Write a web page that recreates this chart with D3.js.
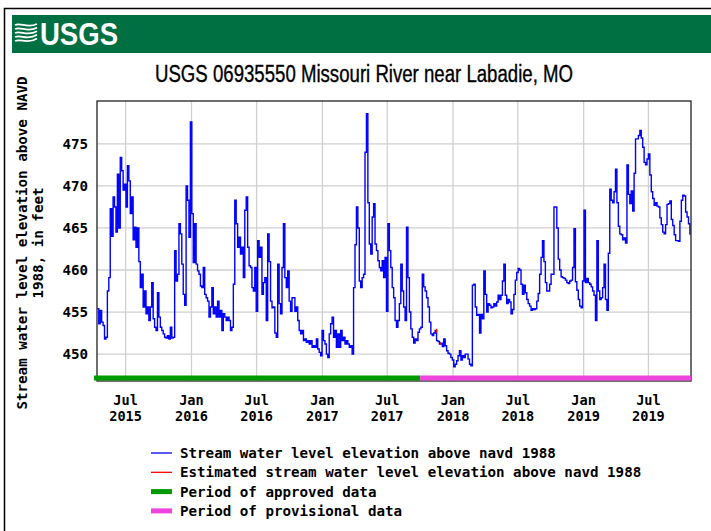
<!DOCTYPE html>
<html>
<head>
<meta charset="utf-8">
<script src="https://cdn.jsdelivr.net/npm/d3@7"></script>
<style>
    body { margin: 0; background: #fff; }
    #chart { width: 711px; height: 531px; }
    .mono { font-family: "DejaVu Sans Mono", "Liberation Mono", monospace; font-weight: bold; font-size: 14.2px; fill: #000; }
    .xlab { font-size: 13.6px; }
</style>
</head>
<body>
<div id="chart"></div>
<script>

const siteTitle = "USGS 06935550 Missouri River near Labadie, MO";
const yLabelLines = ["Stream water level elevation above NAVD", "1988, in feet"];

// stage read every 4 days starting at seriesStart (feet above NAVD 1988)
const seriesStart = "2015-04-13";
const stepDays = 4;
const stage = [
    455.4, 453.6, 455.2, 453.8, 453.4, 451.8, 452.0, 457.5, 459.1, 467.3,
    464.0, 468.7, 467.5, 464.5, 471.4, 465.0, 473.4, 471.8, 469.5, 470.2,
    467.5, 472.4, 470.6, 466.7, 468.7, 463.6, 465.1, 462.7, 465.0, 461.0,
    457.9, 459.5, 455.6, 457.5, 454.8, 455.6, 454.0, 455.6, 458.5, 454.2,
    453.2, 452.8, 457.3, 454.4, 453.2, 452.8, 452.4, 452.0, 451.9, 452.2,
    451.8, 453.2, 451.9, 452.0, 462.3, 458.7, 459.5, 465.5, 464.3, 460.7,
    457.1, 455.8, 470.0, 468.3, 463.9, 477.6, 466.7, 460.9, 465.5, 460.7,
    459.9, 459.5, 458.1, 457.9, 460.3, 457.1, 456.7, 456.3, 454.4, 455.6,
    457.9, 454.8, 455.6, 454.4, 456.3, 454.4, 455.2, 452.8, 454.8, 454.4,
    454.0, 454.4, 454.0, 452.8, 453.2, 458.3, 468.3, 465.5, 462.7, 463.9,
    461.9, 462.7, 459.1, 467.1, 468.7,
    462.7, 460.5, 460.3, 457.9, 457.5, 460.3, 455.1, 463.5, 461.5, 462.7,
    457.1, 458.5, 459.1, 454.0, 464.3, 461.0, 456.3, 455.5, 455.6, 452.5,
    452.0, 460.7, 456.0, 454.8, 460.3, 465.5, 459.1, 457.9, 459.9, 456.3,
    455.1, 456.7, 456.7, 455.1, 455.6, 454.0, 452.8, 452.4, 452.8, 451.6,
    451.8, 451.4, 451.6, 451.2, 451.6, 450.8, 451.0, 450.8, 451.8, 450.6,
    450.2, 449.8, 452.8, 451.6, 451.2, 450.0, 449.6, 452.4, 453.6, 454.4,
    452.0, 452.8, 450.8, 452.4, 450.8, 452.8, 451.6, 452.0, 451.2, 451.6,
    451.2, 450.8, 451.0, 450.0, 457.9, 463.0, 467.5, 465.0, 458.7, 457.9,
    459.1, 459.5, 474.0, 478.6, 468.0, 463.1, 461.9, 466.3, 467.9, 463.1,
    462.3, 461.1, 460.3, 459.9, 461.1, 459.1, 461.5, 455.1, 465.5, 462.3,
    460.3, 457.9, 456.7, 454.0, 453.2,
    454.0, 456.0, 460.7, 457.5, 455.6, 454.0, 465.1, 459.1, 455.0, 453.0,
    452.0, 451.3, 451.8, 451.6, 452.6, 453.0, 453.2, 459.5, 458.0, 457.5,
    456.7, 455.6, 453.8, 452.4, 452.2, 452.5, 452.8, 451.6, 451.5, 451.2,
    451.3, 450.9, 451.8, 451.0, 450.4, 450.1, 450.0, 449.6, 449.3, 448.5,
    448.8, 449.2, 449.8, 450.4, 449.3, 449.8, 449.6, 450.0, 450.0, 449.4,
    448.8, 448.6, 458.2, 458.3, 455.6, 454.6, 454.7, 452.5, 454.7, 454.2,
    459.9, 457.1, 455.0, 456.0, 455.8, 455.5, 455.6, 456.0, 455.7, 456.2,
    457.0, 456.5, 457.0, 458.7, 460.7, 457.0, 456.0, 456.5, 456.2, 454.8,
    455.3, 457.1, 458.8, 459.7, 460.2, 460.0, 458.3, 457.1, 458.2, 457.3,
    456.5, 456.0, 455.7, 455.2, 455.4, 455.3, 455.4, 456.3, 457.2, 459.5,
    461.5, 463.5, 461.0, 458.5, 457.5,
    457.5, 458.3, 459.5, 459.5, 467.5, 467.5, 465.0, 461.3, 460.0, 459.2,
    459.1, 459.0, 458.8, 458.5, 458.4, 458.7, 458.8, 460.3, 464.9, 458.6,
    457.6, 456.5, 455.7, 455.5, 458.7, 467.1, 458.5, 459.0, 458.5, 458.3,
    458.0, 457.5, 457.0, 454.0, 463.5, 457.5, 456.5, 456.7, 457.9, 460.7,
    456.5, 455.2, 462.0, 469.6, 468.3, 468.0, 469.3, 472.0, 468.0, 465.2,
    464.3, 464.2, 463.6, 463.8, 463.2, 472.5, 469.0, 467.9, 469.4, 467.0,
    471.5, 475.6, 475.6, 476.0, 476.6, 475.7, 474.6, 472.8, 472.5, 473.2,
    473.8, 471.3, 469.3, 468.5, 467.7, 468.0, 467.6, 467.5, 466.2, 465.4,
    464.5, 464.3, 465.4, 467.8, 467.9, 468.2, 466.0, 465.3, 464.2, 463.5,
    463.5, 463.4, 465.8, 468.3, 468.9, 468.8, 466.9, 466.3, 465.5, 464.2
];

// a few estimated values (NaN breaks the line)
const estDates = ["2017-11-14", "2017-11-16", "2017-11-21", "2017-11-26", "2017-11-28"];
const estStage = [452.6, 453.0, NaN, 451.3, 451.1];

const approvedEnd = "2017-10-01";
const xDomain = ["2015-04-12", "2019-10-28"];
const yDomain = [446.8, 480.1];
const xTicks = ["2015-07-01", "2016-01-01", "2016-07-01", "2017-01-01", "2017-07-01",
    "2018-01-01", "2018-07-01", "2019-01-01", "2019-07-01"];
const yTicks = [450, 455, 460, 465, 470, 475];
const legendLabels = [
    "Stream water level elevation above navd 1988",
    "Estimated stream water level elevation above navd 1988",
    "Period of approved data",
    "Period of provisional data"
];

class StageVis {
    constructor(parentElement) {
        this.parentElement = parentElement;
        this.initVis();
    }

    initVis() {
        let vis = this;
        const parse = d3.utcParse("%Y-%m-%d");

        vis.margin = {top: 101, right: 20, bottom: 150, left: 97};
        vis.width = 711 - vis.margin.left - vis.margin.right;
        vis.height = 531 - vis.margin.top - vis.margin.bottom;

        vis.root = d3.select("#" + vis.parentElement)
            .append("svg")
            .attr("width", 711)
            .attr("height", 531);

        // outer frame + banner
        vis.root.append("rect")
            .attr("x", 4.5).attr("y", 8.5)
            .attr("width", 800).attr("height", 600)
            .attr("fill", "none")
            .attr("stroke", "#000")
            .attr("stroke-width", 1.5);
        vis.root.append("rect")
            .attr("x", 12).attr("y", 15)
            .attr("width", 700).attr("height", 38)
            .attr("fill", "#006f41");

        let logo = vis.root.append("g").attr("transform", "translate(15,23)");
        d3.range(5).forEach((k) => {
            logo.append("path")
                .attr("d", `M0,${2 + k * 4} C6,${-1 + k * 4} 12,${6 + k * 4} 22,${1 + k * 3.6}`)
                .attr("fill", "none")
                .attr("stroke", "#fff")
                .attr("stroke-width", 1.8);
        });
        vis.root.append("text")
            .attr("x", 40).attr("y", 45)
            .attr("textLength", 78)
            .attr("lengthAdjust", "spacingAndGlyphs")
            .style("font-family", "'Liberation Sans Narrow', 'Liberation Sans', Arial, sans-serif")
            .style("font-weight", "bold")
            .style("font-size", "31px")
            .style("fill", "#fff")
            .text("USGS");

        vis.root.append("text")
            .attr("x", 364).attr("y", 82)
            .attr("text-anchor", "middle")
            .attr("textLength", 418)
            .attr("lengthAdjust", "spacingAndGlyphs")
            .style("font-family", "'Liberation Sans Narrow', 'Liberation Sans', Arial, sans-serif")
            .style("font-size", "23px")
            .style("fill", "#000")
            .style("stroke", "#000")
            .style("stroke-width", 0.35)
            .text(siteTitle);

        vis.svg = vis.root.append("g")
            .attr("transform", "translate(" + vis.margin.left + "," + vis.margin.top + ")");

        vis.x = d3.scaleUtc()
            .domain(xDomain.map(parse))
            .range([0, vis.width]);
        vis.y = d3.scaleLinear()
            .domain(yDomain)
            .range([vis.height, 0]);

        // grid
        vis.svg.selectAll(".hgrid")
            .data(yTicks)
            .enter().append("line")
            .attr("class", "hgrid")
            .attr("x1", 0).attr("x2", vis.width)
            .attr("y1", d => vis.y(d)).attr("y2", d => vis.y(d))
            .attr("stroke", "#d0d0d0").attr("stroke-width", 1.3);
        vis.svg.selectAll(".vgrid")
            .data(xTicks.map(parse))
            .enter().append("line")
            .attr("class", "vgrid")
            .attr("x1", d => vis.x(d)).attr("x2", d => vis.x(d))
            .attr("y1", 0).attr("y2", vis.height)
            .attr("stroke", "#d0d0d0").attr("stroke-width", 1.3);

        // y axis labels
        vis.svg.append("g")
            .attr("class", "mono")
            .call(d3.axisLeft(vis.y).tickValues(yTicks).tickSize(0).tickPadding(9))
            .call(g => g.select(".domain").remove())
            .selectAll("text")
            .attr("class", "mono")
            .attr("fill", "#000");

        // x labels, month on one line, year below
        let fmtMonth = d3.utcFormat("%b"), fmtYear = d3.utcFormat("%Y");
        vis.svg.selectAll(".xmonth")
            .data(xTicks.map(parse))
            .enter().append("text")
            .attr("class", "mono xlab xmonth")
            .attr("text-anchor", "middle")
            .attr("x", d => vis.x(d))
            .attr("y", vis.height + 24)
            .text(d => fmtMonth(d));
        vis.svg.selectAll(".xyear")
            .data(xTicks.map(parse))
            .enter().append("text")
            .attr("class", "mono xlab xyear")
            .attr("text-anchor", "middle")
            .attr("x", d => vis.x(d))
            .attr("y", vis.height + 40)
            .text(d => fmtYear(d));

        // series
        let start = parse(seriesStart);
        vis.displayData = stage.map((v, i) => ({date: d3.utcDay.offset(start, i * stepDays), value: v}));
        let line = d3.line()
            .defined(d => !isNaN(d.value))
            .curve(d3.curveStepAfter)
            .x(d => vis.x(d.date))
            .y(d => vis.y(d.value));

        vis.svg.append("path")
            .datum(vis.displayData)
            .attr("d", line)
            .attr("fill", "none")
            .attr("stroke", "#0000ff")
            .attr("stroke-width", 1.4);

        vis.svg.append("path")
            .datum(estDates.map((d, i) => ({date: parse(d), value: estStage[i]})))
            .attr("d", line)
            .attr("fill", "none")
            .attr("stroke", "#ff0000")
            .attr("stroke-width", 1.2);

        // plot border
        vis.svg.append("rect")
            .attr("width", vis.width).attr("height", vis.height)
            .attr("fill", "none")
            .attr("stroke", "#222")
            .attr("stroke-width", 1.3);

        // approval bar
        let splitX = vis.x(parse(approvedEnd));
        vis.svg.append("line")
            .attr("x1", -3).attr("x2", splitX)
            .attr("y1", vis.height - 3).attr("y2", vis.height - 3)
            .attr("stroke", "#009900").attr("stroke-width", 5);
        vis.svg.append("line")
            .attr("x1", splitX).attr("x2", vis.width)
            .attr("y1", vis.height - 3).attr("y2", vis.height - 3)
            .attr("stroke", "#ee44dd").attr("stroke-width", 5);

        // y label
        let yl = vis.root.append("g");
        yLabelLines.forEach((t, k) => {
            yl.append("text")
                .attr("class", "mono")
                .attr("transform", `translate(${27 + k * 16},243) rotate(-90)`)
                .attr("text-anchor", "middle")
                .text(t);
        });

        // legend
        const legendStyle = [
            {color: "#0000ff", w: 1.3},
            {color: "#ff0000", w: 1.3},
            {color: "#009900", w: 5},
            {color: "#ee44dd", w: 5}
        ];
        let lg = vis.root.append("g").attr("transform", "translate(151,453)");
        legendLabels.forEach((t, k) => {
            let row = lg.append("g").attr("transform", `translate(0,${k * 19.3})`);
            row.append("line")
                .attr("x1", 0).attr("x2", 21)
                .attr("stroke", legendStyle[k].color)
                .attr("stroke-width", legendStyle[k].w);
            row.append("text")
                .attr("class", "mono")
                .attr("x", 29).attr("y", 5)
                .text(t);
        });
    }
}

new StageVis("chart");
</script>
</body>
</html>
